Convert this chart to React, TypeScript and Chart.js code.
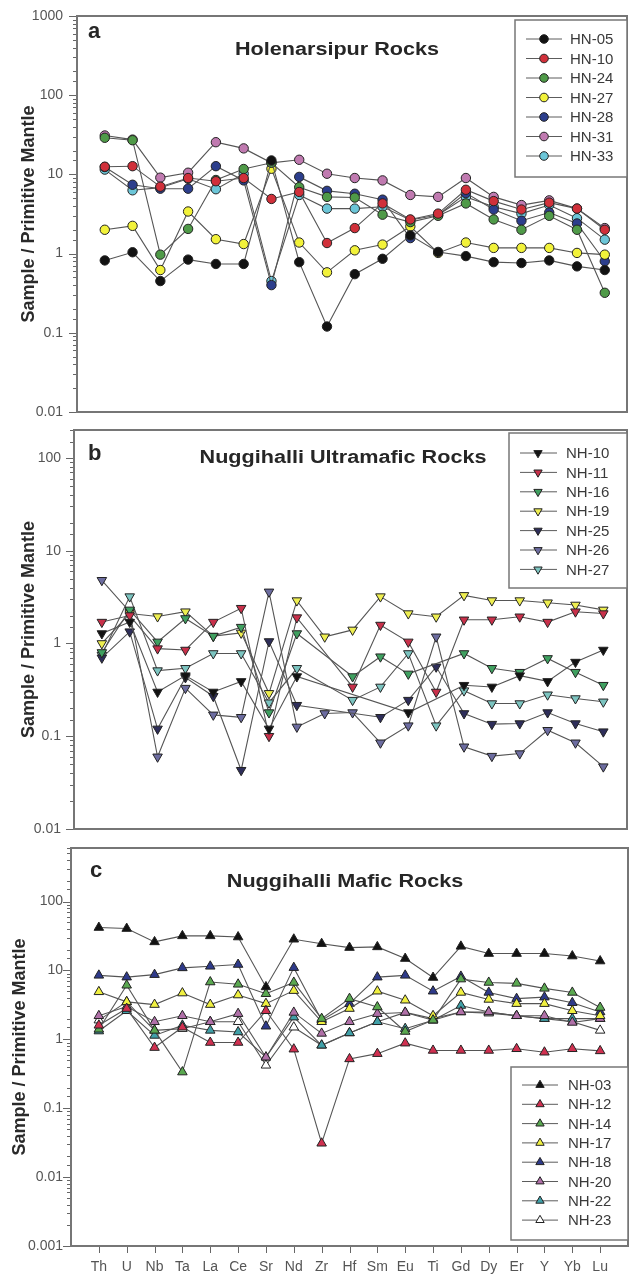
import React, { useEffect, useRef } from 'react';
import { Chart, registerables } from 'chart.js';

Chart.register(...registerables);

const ELEMENTS = ['Th', 'U', 'Nb', 'Ta', 'La', 'Ce', 'Sr', 'Nd', 'Zr', 'Hf', 'Sm', 'Eu', 'Ti', 'Gd', 'Dy', 'Er', 'Y', 'Yb', 'Lu'];

// Panel a – Holenarsipur Rocks
const HN_05 = [0.82, 1.04, 0.45, 0.84, 0.74, 0.74, 15, 0.78, 0.12, 0.55, 0.86, 1.7, 1.05, 0.93, 0.78, 0.76, 0.82, 0.69, 0.62];
const HN_10 = [12.5, 12.7, 7.0, 9.0, 8.2, 9.0, 4.9, 6.0, 1.36, 2.1, 4.3, 2.7, 3.2, 6.4, 4.6, 3.6, 4.4, 3.7, 2.0];
const HN_24 = [29, 27, 0.97, 2.05, 8.5, 11.7, 14, 6.9, 5.2, 5.1, 3.1, 2.5, 3.0, 4.3, 2.7, 2.0, 3.0, 2.0, 0.32];
const HN_27 = [2.0, 2.24, 0.62, 3.4, 1.52, 1.32, 11.8, 1.38, 0.58, 1.1, 1.3, 2.2, 1.02, 1.38, 1.18, 1.18, 1.18, 1.02, 0.97];
const HN_28 = [12.4, 7.4, 6.6, 6.6, 12.7, 8.4, 0.4, 9.3, 6.2, 5.7, 4.8, 1.57, 3.07, 5.8, 3.6, 2.6, 3.3, 2.4, 0.8];
const HN_31 = [31, 27.5, 9.1, 10.5, 25.5, 21.3, 14, 15.3, 10.2, 9.0, 8.4, 5.5, 5.2, 9.0, 5.2, 4.1, 4.7, 3.7, 2.1];
const HN_33 = [11.5, 6.3, 6.8, 8.8, 6.5, 10.2, 0.45, 5.5, 3.7, 3.7, 3.9, 2.66, 3.07, 5.2, 3.9, 3.2, 4.1, 2.8, 1.5];

// Panel b – Nuggihalli Ultramafic Rocks
const NH_10 = [1.28, 1.7, 0.30, 0.45, 0.30, 0.39, 0.12, 0.44, null, null, null, 0.18, null, 0.355, 0.34, 0.45, 0.39, 0.63, 0.85];
const NH_11 = [1.7, 2.0, 0.88, 0.85, 1.7, 2.4, 0.1, 1.9, null, 0.34, 1.58, 1.04, 0.30, 1.8, 1.8, 1.94, 1.7, 2.2, 2.1];
const NH_16 = [0.8, 2.3, 1.04, 1.86, 1.2, 1.5, 0.18, 1.28, null, 0.44, 0.72, 0.47, null, 0.78, 0.54, 0.49, 0.69, 0.49, 0.355];
const NH_19 = [1.0, 2.1, 1.95, 2.2, 1.2, 1.3, 0.29, 2.9, 1.18, 1.4, 3.2, 2.1, 1.94, 3.3, 2.9, 2.9, 2.75, 2.6, 2.3];
const NH_25 = [0.7, 1.34, 0.12, 0.43, 0.27, 0.043, 1.05, 0.216, null, null, 0.16, 0.245, 0.56, 0.176, 0.135, 0.137, 0.18, 0.137, 0.112];
const NH_26 = [4.8, 2.2, 0.06, 0.33, 0.17, 0.16, 3.6, 0.126, 0.176, 0.18, 0.085, 0.13, 1.18, 0.077, 0.061, 0.065, 0.116, 0.085, 0.047];
const NH_27 = [0.75, 3.2, 0.51, 0.54, 0.78, 0.78, 0.23, 0.54, null, 0.245, 0.34, 0.78, 0.13, 0.31, 0.225, 0.225, 0.28, 0.255, 0.235];

// Panel c – Nuggihalli Mafic Rocks
const NH_03 = [42, 40.6, 26, 31.8, 31.8, 30.6, 5.77, 28.4, 24.5, 21.5, 22, 14.9, 7.9, 22.4, 17.6, 17.6, 17.6, 16.2, 13.7];
const NH_12 = [1.6, 2.8, 0.76, 1.5, 0.9, 0.9, 2.6, 0.72, 0.031, 0.52, 0.62, 0.88, 0.69, 0.69, 0.69, 0.73, 0.65, 0.73, 0.68];
const NH_14 = [1.4, 6.1, 1.35, 0.335, 6.8, 6.3, 4.6, 6.7, 2.0, 3.9, 2.95, 1.3, 1.9, 7.5, 6.7, 6.5, 5.5, 4.8, 2.9];
const NH_17 = [4.9, 3.5, 3.2, 4.7, 3.2, 4.4, 3.3, 5.1, 1.8, 2.8, 5.0, 3.7, 2.2, 4.8, 3.8, 3.3, 3.3, 2.6, 2.2];
const NH_18 = [8.5, 8.0, 8.7, 10.9, 11.5, 12.2, 1.55, 11, 1.9, 3.3, 8.0, 8.5, 5.0, 8.2, 4.8, 3.9, 4.1, 3.4, 2.5];
const NH_20 = [2.2, 3.0, 1.8, 2.2, 1.8, 2.36, 0.55, 2.46, 1.22, 1.8, 2.36, 2.46, 1.9, 2.5, 2.5, 2.2, 2.2, 1.76, 2.0];
const NH_22 = [1.32, 2.6, 1.14, 1.6, 1.35, 1.28, 0.55, 2.1, 0.82, 1.24, 1.8, 1.43, 1.9, 3.1, 2.5, 2.2, 2.0, 2.0, 2.0];
const NH_23 = [1.9, 3.5, 1.35, 1.43, 1.8, 1.8, 0.42, 1.5, 0.82, 1.24, 1.8, 2.46, 2.0, 2.5, 2.4, 2.2, 2.0, 1.8, 1.35];

const LOG_LABELS: Record<string, string> = { '-3': '0.001', '-2': '0.01', '-1': '0.1', '0': '1', '1': '10', '2': '100', '3': '1000' };

const FONT = "'Liberation Sans', Arial, Helvetica, sans-serif";
const W = 629;

type Series = { label: string; values: (number | null)[]; color: string };
type Panel = {
  series: Series[];
  pointStyle: 'circle' | 'triangle';
  rotation: number;
  radius: number;
  legendRadius: number;
  yMin: number; yMax: number; xMin: number; xMax: number;
  top: number; height: number;
  area: { left: number; right: number; top: number; bottom: number };
  tickPad: number; titlePad: number;
  showX: boolean;
  title: string; titleX: number; titleBase: number;
  letter: string; letterX: number; letterBase: number;
  legend: { x1: number; x2: number; y1: number; y2: number; rowY: number; gap: number; lx1: number; lx2: number; mx: number; tx: number };
};

const PANELS: Panel[] = [
  {
    series: [
      { label: 'HN-05', values: HN_05, color: '#121212' },
      { label: 'HN-10', values: HN_10, color: '#d0303a' },
      { label: 'HN-24', values: HN_24, color: '#4f9a48' },
      { label: 'HN-27', values: HN_27, color: '#f2f23a' },
      { label: 'HN-28', values: HN_28, color: '#2c3e8c' },
      { label: 'HN-31', values: HN_31, color: '#c07ab0' },
      { label: 'HN-33', values: HN_33, color: '#6cc6d8' },
    ],
    pointStyle: 'circle', rotation: 0, radius: 4.7, legendRadius: 4.3,
    yMin: 0.01, yMax: 1000, xMin: 0, xMax: 19.8,
    top: 0, height: 420,
    area: { left: 77, right: 627, top: 16, bottom: 412 },
    tickPad: 14, titlePad: 18, showX: false,
    title: 'Holenarsipur Rocks', titleX: 337, titleBase: 55,
    letter: 'a', letterX: 88, letterBase: 38,
    legend: { x1: 515, x2: 627, y1: 20, y2: 177, rowY: 39, gap: 19.5, lx1: 526, lx2: 562, mx: 544, tx: 570 },
  },
  {
    series: [
      { label: 'NH-10', values: NH_10, color: '#121212' },
      { label: 'NH-11', values: NH_11, color: '#c8304a' },
      { label: 'NH-16', values: NH_16, color: '#3fa060' },
      { label: 'NH-19', values: NH_19, color: '#eeee50' },
      { label: 'NH-25', values: NH_25, color: '#2e2e5a' },
      { label: 'NH-26', values: NH_26, color: '#6c6ca0' },
      { label: 'NH-27', values: NH_27, color: '#7cc4c0' },
    ],
    pointStyle: 'triangle', rotation: 180, radius: 5.5, legendRadius: 4.8,
    yMin: 0.01, yMax: 200, xMin: 0, xMax: 19.85,
    top: 420, height: 420,
    area: { left: 74, right: 627, top: 10, bottom: 409 },
    tickPad: 13, titlePad: 18, showX: false,
    title: 'Nuggihalli Ultramafic Rocks', titleX: 343, titleBase: 43,
    letter: 'b', letterX: 88, letterBase: 40,
    legend: { x1: 509, x2: 627, y1: 13, y2: 168, rowY: 33, gap: 19.4, lx1: 520, lx2: 557, mx: 538, tx: 566 },
  },
  {
    series: [
      { label: 'NH-03', values: NH_03, color: '#121212' },
      { label: 'NH-12', values: NH_12, color: '#d03050' },
      { label: 'NH-14', values: NH_14, color: '#5aa850' },
      { label: 'NH-17', values: NH_17, color: '#f0f040' },
      { label: 'NH-18', values: NH_18, color: '#2e3a8a' },
      { label: 'NH-20', values: NH_20, color: '#b070a8' },
      { label: 'NH-22', values: NH_22, color: '#40a0a8' },
      { label: 'NH-23', values: NH_23, color: '#ffffff' },
    ],
    pointStyle: 'triangle', rotation: 0, radius: 5.5, legendRadius: 4.8,
    yMin: 0.001, yMax: 600, xMin: 0, xMax: 20,
    top: 840, height: 438,
    area: { left: 71, right: 628, top: 8, bottom: 406 },
    tickPad: 8, titlePad: 9, showX: true,
    title: 'Nuggihalli Mafic Rocks', titleX: 345, titleBase: 47,
    letter: 'c', letterX: 90, letterBase: 37,
    legend: { x1: 511, x2: 628, y1: 227, y2: 400, rowY: 245, gap: 19.3, lx1: 522, lx2: 558, mx: 540, tx: 568 },
  },
];

function isDecade(v: number) {
  const e = Math.log10(v);
  return Math.abs(e - Math.round(e)) < 1e-6;
}

function drawMarker(ctx: CanvasRenderingContext2D, style: string, rotation: number, x: number, y: number, r: number, fill: string) {
  ctx.beginPath();
  if (style === 'circle') {
    ctx.arc(x, y, r, 0, Math.PI * 2);
  } else {
    let rad = (rotation * Math.PI) / 180;
    ctx.moveTo(x + Math.sin(rad) * r, y - Math.cos(rad) * r);
    rad += (2 * Math.PI) / 3;
    ctx.lineTo(x + Math.sin(rad) * r, y - Math.cos(rad) * r);
    rad += (2 * Math.PI) / 3;
    ctx.lineTo(x + Math.sin(rad) * r, y - Math.cos(rad) * r);
    ctx.closePath();
  }
  ctx.fillStyle = fill;
  ctx.fill();
  ctx.lineWidth = 1;
  ctx.strokeStyle = '#222';
  ctx.stroke();
}

function PanelChart({ p }: { p: Panel }) {
  const ref = useRef<HTMLCanvasElement | null>(null);
  useEffect(() => {
    if (!ref.current) return;
    const decor = {
      id: 'decor',
      afterDraw(chart: any) {
        const ctx: CanvasRenderingContext2D = chart.ctx;
        const { left, right, top, bottom } = chart.chartArea;
        const ys = chart.scales.y;
        const xs = chart.scales.x;
        ctx.save();
        // frame
        ctx.strokeStyle = '#767676';
        ctx.lineWidth = 2;
        ctx.strokeRect(left, top, right - left, bottom - top);
        // y ticks (major and minor)
        ctx.strokeStyle = '#666';
        ctx.lineWidth = 1;
        ys.ticks.forEach((t: any) => {
          const py = Math.round(ys.getPixelForValue(t.value)) + 0.5;
          const len = isDecade(t.value) ? 8 : 4;
          ctx.beginPath();
          ctx.moveTo(left - len, py);
          ctx.lineTo(left - 1, py);
          ctx.stroke();
        });
        if (p.showX) {
          xs.ticks.forEach((t: any) => {
            if (t.value < 1 || t.value > ELEMENTS.length) return;
            const px = Math.round(xs.getPixelForValue(t.value)) + 0.5;
            ctx.beginPath();
            ctx.moveTo(px, bottom + 1);
            ctx.lineTo(px, bottom + 7);
            ctx.stroke();
          });
        }
        // title
        ctx.fillStyle = '#262626';
        ctx.font = `bold 18px ${FONT}`;
        ctx.textAlign = 'center';
        ctx.textBaseline = 'alphabetic';
        ctx.save();
        ctx.translate(p.titleX, p.titleBase);
        ctx.scale(1.2, 1);
        ctx.fillText(p.title, 0, 0);
        ctx.restore();
        // panel letter
        ctx.font = `bold 22px ${FONT}`;
        ctx.textAlign = 'left';
        ctx.fillText(p.letter, p.letterX, p.letterBase);
        // legend
        const L = p.legend;
        ctx.fillStyle = '#ffffff';
        ctx.fillRect(L.x1, L.y1, L.x2 - L.x1, L.y2 - L.y1);
        ctx.strokeStyle = '#777';
        ctx.lineWidth = 1.5;
        ctx.strokeRect(L.x1, L.y1, L.x2 - L.x1, L.y2 - L.y1);
        p.series.forEach((s, i) => {
          const ry = L.rowY + i * L.gap;
          ctx.strokeStyle = '#5c5c5c';
          ctx.lineWidth = 1;
          ctx.beginPath();
          ctx.moveTo(L.lx1, ry);
          ctx.lineTo(L.lx2, ry);
          ctx.stroke();
          drawMarker(ctx, p.pointStyle, p.rotation, L.mx, ry, p.legendRadius, s.color);
          ctx.fillStyle = '#3a3a3a';
          ctx.font = `15px ${FONT}`;
          ctx.textAlign = 'left';
          ctx.textBaseline = 'middle';
          ctx.fillText(s.label, L.tx, ry + 1);
        });
        ctx.restore();
      },
    };

    const chart = new Chart(ref.current, {
      type: 'line',
      data: {
        datasets: p.series.map((s) => ({
          label: s.label,
          data: s.values.map((v, i) => ({ x: i + 1, y: v })),
          borderColor: '#555555',
          borderWidth: 1.1,
          backgroundColor: s.color,
          pointBackgroundColor: s.color,
          pointBorderColor: '#222',
          pointBorderWidth: 1,
          pointRadius: p.radius,
          pointHoverRadius: p.radius,
          pointStyle: p.pointStyle,
          pointRotation: p.rotation,
          spanGaps: true,
          tension: 0,
          fill: false,
        })) as any,
      },
      options: {
        responsive: false,
        animation: false,
        events: [],
        layout: {
          autoPadding: false,
          padding: { left: 0, right: W - p.area.right, top: p.area.top, bottom: 0 },
        },
        plugins: { legend: { display: false }, tooltip: { enabled: false }, title: { display: false } },
        scales: {
          x: {
            type: 'linear',
            position: 'bottom',
            min: p.xMin,
            max: p.xMax,
            grid: { display: false, drawTicks: false },
            border: { display: false },
            ticks: {
              display: p.showX,
              stepSize: 1,
              autoSkip: false,
              maxRotation: 0,
              padding: 13,
              color: '#555',
              font: { family: FONT, size: 14 },
              callback: (v: any) => ELEMENTS[Number(v) - 1] ?? '',
            },
            afterFit: (s: any) => {
              s.height = p.height - p.area.bottom;
              s.paddingLeft = 0; s.paddingRight = 0; s.paddingTop = 0; s.paddingBottom = 0;
            },
          },
          y: {
            type: 'logarithmic',
            min: p.yMin,
            max: p.yMax,
            grid: { display: false, drawTicks: false },
            border: { display: false },
            ticks: {
              autoSkip: false,
              padding: p.tickPad,
              color: '#555',
              font: { family: FONT, size: 14 },
              callback: (v: any) => {
                const n = Number(v);
                if (!isDecade(n)) return '';
                return LOG_LABELS[String(Math.round(Math.log10(n)))] ?? '';
              },
            },
            title: {
              display: true,
              text: 'Sample / Primitive Mantle',
              color: '#2a2a2a',
              font: { family: FONT, size: 18, weight: 'bold' },
              padding: { top: p.titlePad, bottom: 0 },
            },
            afterFit: (s: any) => {
              s.width = p.area.left;
              s.paddingLeft = 0; s.paddingRight = 0; s.paddingTop = 0; s.paddingBottom = 0;
            },
          },
        },
      } as any,
      plugins: [decor],
    });
    return () => chart.destroy();
  }, [p]);

  return (
    <canvas
      ref={ref}
      width={W}
      height={p.height}
      style={{ position: 'absolute', left: 0, top: p.top, width: W, height: p.height, display: 'block' }}
    />
  );
}

export default function App() {
  return (
    <div style={{ position: 'absolute', left: 0, top: 0, width: W, height: 1278, background: '#ffffff', overflow: 'hidden' }}>
      {PANELS.map((p) => (
        <PanelChart key={p.letter} p={p} />
      ))}
    </div>
  );
}
